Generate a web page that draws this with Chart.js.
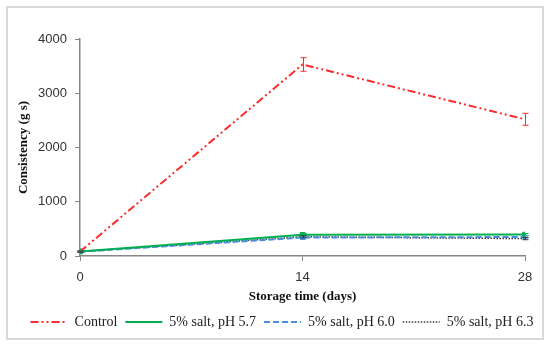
<!DOCTYPE html>
<html>
<head>
<meta charset="utf-8">
<script src="https://cdn.jsdelivr.net/npm/chart.js@4/dist/chart.umd.min.js"></script>
<style>
  html, body { margin: 0; padding: 0; background: #fff; }
  #wrap { position: relative; width: 550px; height: 346px; }
</style>
</head>
<body>
<div id="wrap"><canvas id="myChart" width="550" height="346"></canvas></div>
<script>
const days = [0, 14, 28];
const seriesNames = ["Control", "5% salt, pH 5.7", "5% salt, pH 6.0", "5% salt, pH 6.3"];
const control = [80, 3530, 2520];
const controlErr = [15, 125, 110];
const salt57 = [85, 390, 395];
const salt57Err = [10, 25, 20];
const salt60 = [80, 340, 350];
const salt60Err = [10, 25, 20];
const salt63 = [80, 355, 320];
const salt63Err = [10, 20, 20];
const yTicks = [0, 1000, 2000, 3000, 4000];
const xTicks = [0, 14, 28];

const toPoints = vals => vals.map((v, i) => ({ x: days[i], y: v }));

const serif = "'Liberation Serif', 'DejaVu Serif', serif";
const sans = "'Liberation Sans', Arial, sans-serif";

// vertical error bars with caps
const errorBars = {
  id: "errorBars",
  afterDatasetsDraw(chart) {
    const ctx = chart.ctx;
    const xs = chart.scales.x, ys = chart.scales.y;
    chart.data.datasets.forEach(ds => {
      if (!ds.errors) return;
      ctx.save();
      ctx.strokeStyle = ds.borderColor;
      ctx.lineWidth = 1;
      ctx.setLineDash([]);
      ds.data.forEach((p, i) => {
        const x = Math.round(xs.getPixelForValue(p.x)) + 0.5;
        const top = ys.getPixelForValue(p.y + ds.errors[i]);
        const bot = ys.getPixelForValue(p.y - ds.errors[i]);
        ctx.beginPath();
        ctx.moveTo(x, top); ctx.lineTo(x, bot);
        ctx.moveTo(x - 3, top); ctx.lineTo(x + 3, top);
        ctx.moveTo(x - 3, bot); ctx.lineTo(x + 3, bot);
        ctx.stroke();
      });
      ctx.restore();
    });
  }
};

const frame = {
  id: "frame",
  beforeDraw(chart) {
    const ctx = chart.ctx;
    ctx.save();
    ctx.fillStyle = "#fff";
    ctx.fillRect(0, 0, chart.width, chart.height);
    ctx.strokeStyle = "#d9d9d9";
    ctx.lineWidth = 2;
    ctx.strokeRect(7, 7, 536, 332);
    ctx.restore();
  }
};

const graphData = {
  datasets: [
    {
      label: seriesNames[0],
      data: toPoints(control),
      errors: controlErr,
      borderColor: "#ff2a2a",
      backgroundColor: "#ff2a2a",
      borderWidth: 2,
      borderDash: [8, 3, 2, 3, 2, 3],
      pointRadius: 0
    },
    {
      label: seriesNames[1],
      data: toPoints(salt57),
      errors: salt57Err,
      borderColor: "#00b050",
      backgroundColor: "#00b050",
      borderWidth: 2,
      borderDash: [],
      pointStyle: "rect",
      pointRadius: 2.5
    },
    {
      label: seriesNames[2],
      data: toPoints(salt60),
      errors: salt60Err,
      borderColor: "#4a8de0",
      backgroundColor: "#4a8de0",
      borderWidth: 2,
      borderDash: [6, 3],
      pointStyle: "rect",
      pointRadius: 2
    },
    {
      label: seriesNames[3],
      data: toPoints(salt63),
      errors: salt63Err,
      borderColor: "#3a3a3a",
      backgroundColor: "#3a3a3a",
      borderWidth: 1.5,
      borderDash: [1.5, 1.5],
      pointRadius: 0
    }
  ]
};

const ctx = document.getElementById("myChart").getContext("2d");

const chart = new Chart(ctx, {
  type: "line",
  data: graphData,
  plugins: [frame, errorBars],
  options: {
    responsive: false,
    animation: false,
    layout: { padding: { left: 16, right: 2, top: 39, bottom: 7 } },
    plugins: {
      tooltip: { enabled: false },
      legend: {
        position: "bottom",
        labels: {
          usePointStyle: true,
          pointStyle: "line",
          pointStyleWidth: 37,
          boxWidth: 37,
          boxHeight: 14,
          padding: 8,
          color: "#222",
          font: { family: serif, size: 14 },
          generateLabels: c => c.data.datasets.map((ds, i) => ({
            text: ds.label,
            datasetIndex: i,
            pointStyle: "line",
            strokeStyle: ds.borderColor,
            fillStyle: ds.borderColor,
            fontColor: "#222",
            lineWidth: ds.borderWidth,
            lineDash: ds.borderDash,
            hidden: false
          }))
        }
      }
    },
    scales: {
      x: {
        type: "linear",
        min: 0,
        max: 28,
        afterBuildTicks: s => { s.ticks = xTicks.map(v => ({ value: v })); },
        afterFit: s => { s.height = 51; },
        ticks: { color: "#333", font: { family: sans, size: 13 }, padding: 9, callback: v => String(v) },
        grid: { drawOnChartArea: false, tickLength: 5, color: "#868686" },
        border: { color: "#868686", width: 1.5 },
        title: {
          display: true,
          text: "Storage time (days)",
          color: "#111",
          font: { family: serif, size: 13, weight: "bold" },
          padding: { top: 0, bottom: 3 }
        }
      },
      y: {
        min: 0,
        max: 4000,
        afterBuildTicks: s => { s.ticks = yTicks.map(v => ({ value: v })); },
        afterFit: s => { s.width = 64; },
        ticks: { color: "#333", font: { family: sans, size: 13 }, padding: 8, callback: v => String(v) },
        grid: { drawOnChartArea: false, tickLength: 5, color: "#868686" },
        border: { color: "#868686", width: 1.5 },
        title: {
          display: true,
          text: "Consistency (g s)",
          color: "#111",
          font: { family: serif, size: 13, weight: "bold" },
          padding: { top: 0, bottom: 4 }
        }
      },
      yRight: {
        position: "right",
        display: true,
        ticks: { display: false },
        grid: { display: false },
        border: { display: false },
        afterFit: s => { s.width = 23; }
      }
    }
  }
});
</script>
</body>
</html>
